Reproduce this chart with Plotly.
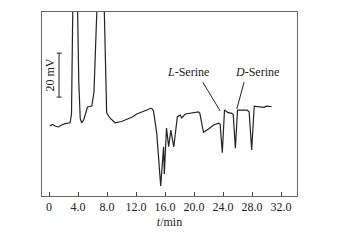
import plotly.graph_objects as go

t_min = [0.1, 0.5, 0.9, 1.3, 1.6, 2.2, 2.9, 3.1, 3.3, 3.6, 3.9, 4.1, 4.3, 4.5, 4.8, 5.1, 5.3, 5.6, 5.9, 6.2, 6.4, 7.0, 7.6, 7.8, 7.95,
         8.4, 9.1, 10.0, 10.7, 11.5, 12.1, 12.8, 13.5, 14.0, 14.2, 14.4, 14.85, 15.4, 15.8, 15.9, 16.2, 16.5, 16.8,
         17.2, 17.7, 18.1, 18.3, 18.8, 19.8, 20.6, 20.8, 21.3, 22.0, 22.7, 23.4, 23.6, 23.9, 24.2, 24.7, 25.2, 25.4,
         25.7, 26.0, 26.6, 27.3, 27.6, 27.95, 28.3, 29.0, 29.6, 30.0, 30.7]
signal_mv = [-0.4, 0.2, -0.6, -0.9, -0.2, 0.6, 1.0, 5, 60, 80, 60, 20, 3, 0.9, 2.5, 6.5, 8.2, 8.4, 8.6, 15, 55, 90, 55, 25, 5.5,
             3.2, 1.0, 1.6, 2.6, 3.6, 5.0, 5.8, 6.8, 7.6, 7.4, 6.5, -3.6, -27.7, -9.9, -22.3, -1.4, -9.9, -2.3,
             -10.0, 3.8, 4.5, 3.2, 5.0, 5.6, 6.0, 5.3, -3.3, -1.8, 0.0, 0.8, 0.4, -12.6, 6.8, 5.6, 5.3, 4.8,
             -10.6, 6.8, 6.9, 6.8, 6.0, -11.4, 8.6, 8.2, 8.0, 8.6, 8.3]
tick_vals = [0, 4, 8, 12, 16, 20, 24, 28, 32]
tick_text = ["0", "4.0", "8.0", "12.0", "16.0", "20.0", "24.0", "28.0", "32.0"]

font = "Liberation Serif"
fig = go.Figure()
fig.add_trace(go.Scatter(x=t_min, y=signal_mv, mode="lines",
                         line=dict(color="#222", width=1.2), showlegend=False, hoverinfo="skip"))

# scale bar 20 mV
bar_x, bar_y0 = 1.38, 12.7
fig.add_shape(type="line", x0=bar_x, x1=bar_x, y0=bar_y0, y1=bar_y0 + 20, line=dict(color="#222", width=1))
for yy in (bar_y0, bar_y0 + 20):
    fig.add_shape(type="line", x0=1.06, x1=1.75, y0=yy, y1=yy, line=dict(color="#222", width=1))
fig.add_annotation(x=0.2, y=bar_y0 + 10, text="20 mV", textangle=-90, showarrow=False,
                   font=dict(family=font, size=12, color="#222"))

# labels
fig.add_annotation(x=19.2, y=24.1, text="<i>L</i>-Serine", showarrow=False,
                   font=dict(family=font, size=12, color="#222"))
fig.add_annotation(x=28.7, y=24.1, text="<i>D</i>-Serine", showarrow=False,
                   font=dict(family=font, size=12, color="#222"))
fig.add_shape(type="line", x0=21.2, y0=19.5, x1=23.6, y1=6.4, line=dict(color="#222", width=1))
fig.add_shape(type="line", x0=26.9, y0=19.5, x1=25.9, y1=7.3, line=dict(color="#222", width=1))

fig.update_layout(
    width=353, height=241, margin=dict(l=42, r=56, t=12, b=45),
    paper_bgcolor="white", plot_bgcolor="white",
    font=dict(family=font, size=12, color="#222"),
    xaxis=dict(range=[-0.97, 34.2], tickvals=tick_vals, ticktext=tick_text, ticks="inside",
               ticklen=4, tickcolor="#444", showline=True, linecolor="#666", linewidth=1, mirror=True,
               showgrid=False, zeroline=False,
               title=dict(text="<i>t</i>/min", font=dict(family=font, size=12), standoff=4),
               tickfont=dict(family=font, size=12)),
    yaxis=dict(range=[-32.3, 51.4], showticklabels=False, ticks="", showline=True, linecolor="#666",
               linewidth=1, mirror=True, showgrid=False, zeroline=False),
)
fig.write_html("out.html")
